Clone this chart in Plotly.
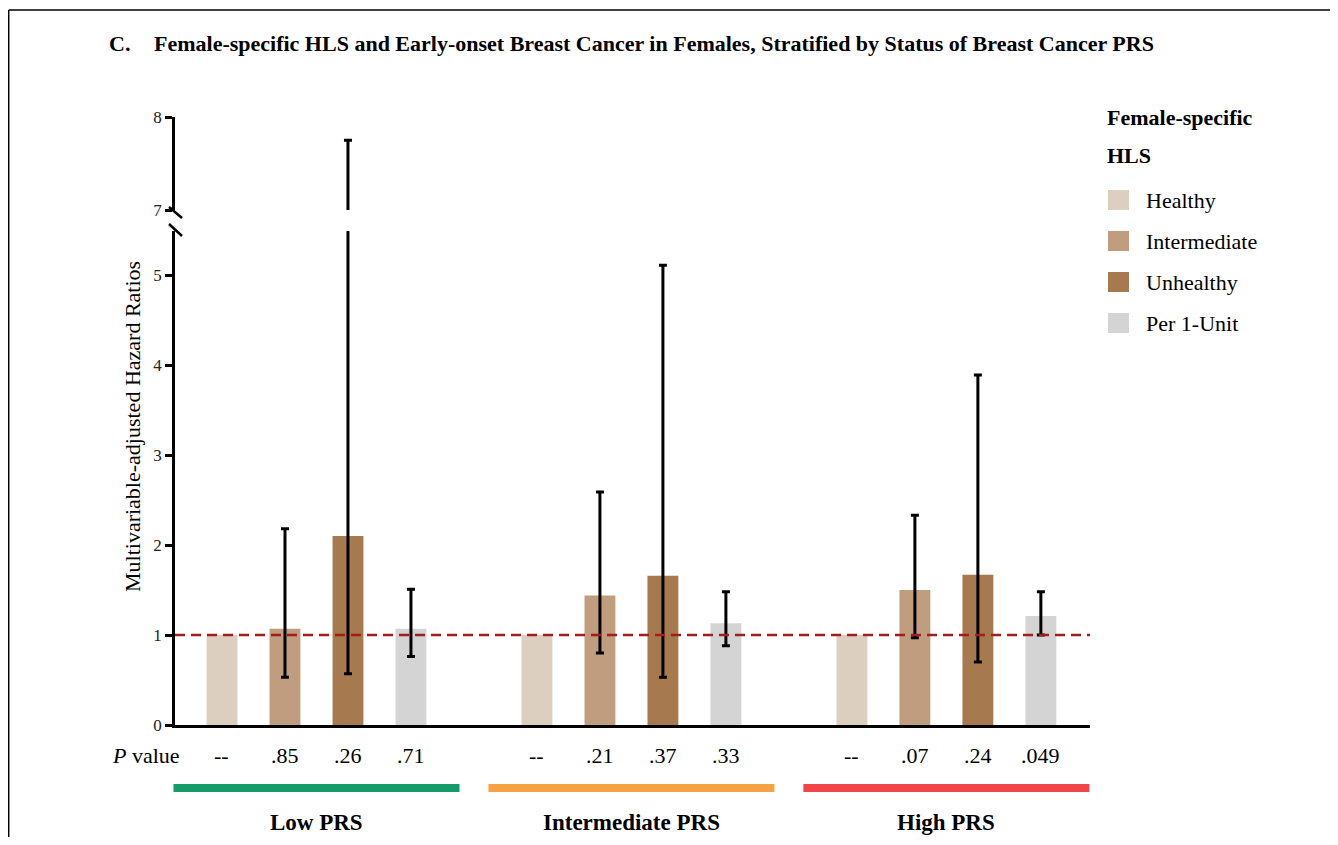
import plotly.graph_objects as go

# ---------------- data ----------------
groups = ["Low PRS", "Intermediate PRS", "High PRS"]
hls_levels = ["Healthy", "Intermediate", "Unhealthy", "Per 1-Unit"]

hr_healthy = [1.00, 1.00, 1.00]
hr_intermediate = [1.07, 1.44, 1.50]
hr_unhealthy = [2.10, 1.66, 1.67]
hr_per_unit = [1.07, 1.13, 1.21]

ci_low_intermediate = [0.53, 0.80, 0.97]
ci_high_intermediate = [2.18, 2.59, 2.33]
ci_low_unhealthy = [0.57, 0.53, 0.70]
ci_high_unhealthy = [7.75, 5.11, 3.89]
ci_low_per_unit = [0.76, 0.88, 1.00]
ci_high_per_unit = [1.51, 1.48, 1.48]

p_low = ["--", ".85", ".26", ".71"]
p_intermediate = ["--", ".21", ".37", ".33"]
p_high = ["--", ".07", ".24", ".049"]

lower_ticks = [0, 1, 2, 3, 4, 5]
upper_ticks = [7, 8]

# ---------------- style ----------------
bar_colors = ["#DDCFBF", "#BF9D7E", "#A67A4E", "#D4D4D4"]
group_colors = ["#159A69", "#F6A143", "#F04648"]
FONT = "Liberation Serif"
OFF = 8  # page body margin
W, H = 1330, 829
ML, MT = 175 - OFF, 117 - OFF
PLOT_R, PLOT_B = 1090 - OFF, 725 - OFF
MR, MB = W - PLOT_R, H - PLOT_B
PW, PH = PLOT_R - ML, PLOT_B - MT
XR = [-0.746, 13.78]


def px(xp):
    return (xp - OFF - ML) / PW


def py(yp):
    return (PLOT_B - (yp - OFF)) / PH


def xd(v):
    return (v - XR[0]) / (XR[1] - XR[0])


series = [
    (hr_healthy, None, None),
    (hr_intermediate, ci_low_intermediate, ci_high_intermediate),
    (hr_unhealthy, ci_low_unhealthy, ci_high_unhealthy),
    (hr_per_unit, ci_low_per_unit, ci_high_per_unit),
]

fig = go.Figure()
for i, (name, (vals, lo, hi)) in enumerate(zip(hls_levels, series)):
    xs = [g * 5 + i for g in range(len(groups))]
    err = None
    if lo is not None:
        err = dict(type="data", symmetric=False,
                   array=[h - v for h, v in zip(hi, vals)],
                   arrayminus=[v - l for v, l in zip(vals, lo)],
                   color="black", thickness=3, width=4)
    for ya in ["y", "y2"]:
        fig.add_trace(go.Bar(
            x=xs, y=vals, name=name, width=0.49,
            marker=dict(color=bar_colors[i], line=dict(width=0)),
            error_y=err if err else dict(visible=False),
            xaxis="x", yaxis=ya, showlegend=False, hoverinfo="skip"))

axis_common = dict(showline=True, linecolor="black", linewidth=2.5,
                   ticks="outside", ticklen=7, tickwidth=2.5, tickcolor="black",
                   showgrid=False, zeroline=False,
                   tickfont=dict(family=FONT, size=17, color="#222"))

fig.update_layout(
    width=W, height=H,
    margin=dict(l=ML, r=MR, t=MT, b=MB),
    paper_bgcolor="white", plot_bgcolor="white",
    barmode="overlay",
    showlegend=False,
    xaxis=dict(range=XR, showline=True, linecolor="black", linewidth=2.5,
               showticklabels=False, ticks="", showgrid=False, zeroline=False,
               anchor="y", fixedrange=True),
    yaxis=dict(range=[0, 5.49], domain=[0, py(231)], tickvals=lower_ticks,
               anchor="x", **axis_common),
    yaxis2=dict(range=[7, 8], domain=[py(210), 1], tickvals=upper_ticks,
                anchor="x", **axis_common),
)

shapes = []
annotations = []

# reference line at HR = 1
shapes.append(dict(type="line", xref="paper", yref="y", x0=0, x1=1, y0=1, y1=1,
                   line=dict(color="#A51C1C", width=2.5, dash="10px,6px"), layer="above"))

# axis break marks
for (x0, y0, x1, y1) in [(169, 207, 182, 218), (169, 224, 182, 236)]:
    shapes.append(dict(type="line", xref="paper", yref="paper",
                       x0=px(x0), y0=py(y0), x1=px(x1), y1=py(y1),
                       line=dict(color="black", width=2.5)))

# frame lines
shapes.append(dict(type="line", xref="paper", yref="paper", x0=px(8.7), x1=px(1338),
                   y0=py(10), y1=py(10), line=dict(color="black", width=1.5)))
shapes.append(dict(type="line", xref="paper", yref="paper", x0=px(8.7), x1=px(8.7),
                   y0=py(10), y1=py(845), line=dict(color="black", width=1.5)))

# title
annotations.append(dict(xref="paper", yref="paper", x=px(107), y=py(44),
                        xanchor="left", yanchor="middle", showarrow=False,
                        text="<b>C.</b>", font=dict(family=FONT, size=22, color="black")))
annotations.append(dict(xref="paper", yref="paper", x=px(152), y=py(44),
                        xanchor="left", yanchor="middle", showarrow=False,
                        text="<b>Female-specific HLS and Early-onset Breast Cancer in Females, "
                             "Stratified by Status of Breast Cancer PRS</b>",
                        font=dict(family=FONT, size=22, color="black")))

# y-axis title
annotations.append(dict(xref="paper", yref="paper", x=px(132), y=py(427),
                        xanchor="center", yanchor="middle", showarrow=False, textangle=-90,
                        text="Multivariable-adjusted Hazard Ratios",
                        font=dict(family=FONT, size=22, color="black")))

# P value row
annotations.append(dict(xref="paper", yref="paper", x=px(110), y=py(756),
                        xanchor="left", yanchor="middle", showarrow=False,
                        text="<i>P</i> value", font=dict(family=FONT, size=22, color="black")))
for g, plist in enumerate([p_low, p_intermediate, p_high]):
    for i, p in enumerate(plist):
        annotations.append(dict(xref="x", yref="paper", x=g * 5 + i, y=py(756),
                                xanchor="center", yanchor="middle", showarrow=False,
                                text=p, font=dict(family=FONT, size=22, color="black")))

# group bars + labels
for g, (gname, gcol) in enumerate(zip(groups, group_colors)):
    c = g * 5 + 1.5
    shapes.append(dict(type="rect", xref="paper", yref="paper",
                       x0=xd(c - 2.27), x1=xd(c + 2.27), y0=py(792), y1=py(784),
                       fillcolor=gcol, line=dict(width=0)))
    annotations.append(dict(xref="paper", yref="paper", x=xd(c), y=py(822),
                            xanchor="center", yanchor="middle", showarrow=False,
                            text="<b>" + gname + "</b>",
                            font=dict(family=FONT, size=23, color="black")))

# legend (manual)
annotations.append(dict(xref="paper", yref="paper", x=px(1105), y=py(117),
                        xanchor="left", yanchor="middle", showarrow=False,
                        text="<b>Female-specific</b>", font=dict(family=FONT, size=22, color="black")))
annotations.append(dict(xref="paper", yref="paper", x=px(1105), y=py(155),
                        xanchor="left", yanchor="middle", showarrow=False,
                        text="<b>HLS</b>", font=dict(family=FONT, size=22, color="black")))
for i, (name, col) in enumerate(zip(hls_levels, bar_colors)):
    yc = 200 + i * 41
    shapes.append(dict(type="rect", xref="paper", yref="paper",
                       x0=px(1108), x1=px(1129), y0=py(yc - 10), y1=py(yc + 10),
                       fillcolor=col, line=dict(width=0)))
    annotations.append(dict(xref="paper", yref="paper", x=px(1144), y=py(yc),
                            xanchor="left", yanchor="middle", showarrow=False,
                            text=name, font=dict(family=FONT, size=22, color="black")))

fig.update_layout(shapes=shapes, annotations=annotations)
fig.write_html("out.html")
